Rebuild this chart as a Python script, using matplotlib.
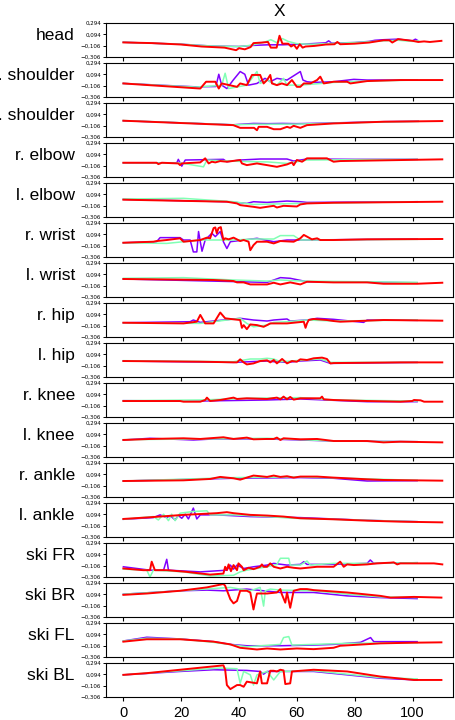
import matplotlib
matplotlib.use("Agg")
import matplotlib.pyplot as plt

plt.rcParams['font.family'] = ['Liberation Sans', 'DejaVu Sans']

# joint names, top to bottom
joints = ["head", "r. shoulder", "l. shoulder", "r. elbow", "l. elbow",
          "r. wrist", "l. wrist", "r. hip", "l. hip", "r. knee", "l. knee",
          "r. ankle", "l. ankle", "ski FR", "ski BR", "ski FL", "ski BL"]

y_ticks = [-0.306, -0.106, 0.094, 0.294]
y_tick_labels = ["\u22120,306", "\u22120,106", "0,094", "0,294"]
x_ticks = [0, 20, 40, 60, 80, 100]

# (frame, value) pairs, one list per joint and colour
head_purple = [(0, -0.045), (20, -0.08), (30, -0.11), (40, -0.12), (45, -0.1), (50, -0.09), (55, -0.09),
               (60, -0.08), (65, -0.07), (70, -0.055), (71, -0.02), (72, -0.06), (80, -0.05), (85, -0.03),
               (87, -0.01), (90, 0.0), (95, 0.01), (100, -0.02), (101, 0.01), (102, -0.02)]
head_green = [(0, -0.045), (20, -0.08), (30, -0.11), (40, -0.12), (44, -0.1), (49, -0.04), (51, 0.0),
              (53, -0.05), (55, 0.02), (57, -0.03), (60, -0.07), (65, -0.08), (70, -0.07), (80, -0.05),
              (90, -0.02), (95, -0.01), (100, -0.03), (102, -0.02)]
head_red = [(0, -0.048), (10, -0.06), (20, -0.085), (27, -0.12), (35, -0.14), (39, -0.185), (40, -0.15),
            (42, -0.17), (44, -0.13), (45, -0.06), (48, -0.05), (50, -0.04), (51, -0.14), (53, -0.14),
            (54, 0.07), (55, -0.07), (57, -0.07), (58, -0.12), (59, -0.09), (60, -0.16), (61, -0.08),
            (62, -0.14), (63, -0.12), (66, -0.11), (70, -0.085), (73, -0.08), (74, -0.04), (75, -0.08),
            (80, -0.07), (85, -0.05), (90, -0.01), (92, -0.01), (93, -0.05), (95, 0.01), (100, -0.02),
            (102, -0.04), (104, -0.03), (106, -0.04), (108, -0.03), (110, -0.02)]

rsho_purple = [(0, -0.066), (25, -0.126), (32, -0.12), (33, 0.096), (34, -0.096), (35.8, -0.156), (38, -0.006),
               (40.4, 0.144), (42, 0.096), (43.3, -0.096), (46.2, -0.066), (49, 0.024), (50.8, -0.036),
               (53.1, 0.024), (56.6, -0.006), (61.2, 0.144), (62.1, -0.006), (63.5, -0.036), (65.8, -0.048),
               (72.7, -0.036), (79.7, 0.006), (84.3, -0.006), (101.6, -0.006)]
rsho_green = [(0, -0.066), (25, -0.13), (34, -0.1), (35.2, 0.114), (36.4, -0.156), (42.7, -0.096), (46.2, 0.144),
              (47.3, -0.066), (49.7, -0.006), (53.1, -0.096), (55.4, 0.024), (56.6, -0.096), (61.2, -0.096),
              (72.7, -0.048), (84.3, -0.024), (101.6, -0.006)]
rsho_red = [(0, -0.066), (26.6, -0.156), (28.6, -0.036), (31.8, -0.036), (33, -0.156), (34, -0.066),
            (39.3, -0.126), (40.4, -0.066), (42.7, -0.096), (44.5, 0.084), (47.3, 0.084), (48.5, -0.066),
            (49.7, -0.006), (50.8, 0.084), (51.4, -0.066), (53.1, -0.096), (54.8, -0.066), (56.6, -0.096),
            (58.3, -0.006), (60, -0.126), (61.2, -0.126), (62.4, -0.066), (64.7, -0.066), (67, -0.006),
            (68.1, 0.054), (69.3, -0.066), (72.7, -0.036), (77.4, -0.036), (78.5, -0.066), (84.3, -0.024),
            (95.8, -0.006), (110.3, -0.006)]

lsho_purple = [(0, -0.018), (38, -0.09), (45, -0.066), (50, -0.07), (55, -0.066), (60, -0.07), (70, -0.06),
               (90, -0.035), (102, -0.028)]
lsho_green = [(0, -0.015), (38, -0.09), (45, -0.08), (50, -0.08), (60, -0.078), (70, -0.065), (90, -0.04),
              (102, -0.03)]
lsho_red = [(0, -0.018), (38, -0.096), (40.4, -0.144), (45.2, -0.144), (46.2, -0.186), (46.8, -0.126),
            (49.7, -0.126), (52, -0.168), (54.3, -0.168), (56.6, -0.126), (57.7, -0.144), (58.9, -0.108),
            (61.2, -0.144), (63.5, -0.096), (72.7, -0.066), (90, -0.036), (110.3, -0.024)]

relb_purple = [(0, -0.054), (18.5, -0.054), (19, 0.006), (20.2, -0.114), (21.4, -0.006), (34.6, 0.006),
               (35.8, -0.036), (40.4, -0.006), (47.3, 0.012), (56.6, 0.012), (58.9, -0.024), (63.5, 0.012),
               (80, 0.006), (101.6, 0.006)]
relb_green = [(0, -0.054), (20, -0.06), (27.7, -0.126), (28.9, -0.006), (40, -0.03), (50, -0.04),
              (56.6, -0.066), (63.5, -0.006), (80, 0.0), (101.6, 0.006)]
relb_red = [(0, -0.054), (11.5, -0.054), (12.1, -0.078), (13.3, -0.054), (19, -0.066), (19.6, -0.096),
            (20.2, -0.066), (26.6, -0.048), (28.3, 0.024), (29.5, -0.066), (30.6, -0.036), (31.8, -0.048),
            (33.5, -0.024), (35.8, -0.036), (40.4, -0.006), (41, -0.066), (42.7, -0.096), (46.2, -0.066),
            (49.7, -0.096), (53.1, -0.126), (56.6, -0.084), (58.3, -0.048), (58.9, -0.096), (60, -0.006),
            (61.8, -0.036), (63.5, 0.024), (70.4, 0.024), (72.7, -0.036), (75, -0.024), (110.3, 0.006)]

lelb_purple = [(0, 0.006), (35.8, -0.036), (42.7, -0.066), (45, -0.036), (49.7, -0.048), (56.6, -0.024),
               (61.2, -0.036), (63.5, -0.048), (101.6, -0.036)]
lelb_green = [(0, 0.012), (20.8, 0.024), (38, -0.036), (45, -0.084), (61.2, -0.066), (101.6, -0.036)]
lelb_red = [(0, 0.0), (35.8, -0.036), (39.3, -0.066), (40.4, -0.096), (45, -0.126), (47.3, -0.144),
            (52, -0.108), (53.1, -0.138), (55.4, -0.108), (60, -0.12), (61.2, -0.084), (63.5, -0.066),
            (72.7, -0.054), (110.3, -0.036)]

rwri_purple = [(0, -0.054), (11.5, -0.036), (12.7, 0.036), (19.6, 0.036), (20.8, -0.006), (23.1, -0.006),
               (24.2, -0.216), (25.4, -0.216), (26, 0.144), (26.6, -0.036), (27.2, -0.204), (28.3, -0.006),
               (30.6, 0.114), (31.8, 0.054), (33.5, 0.144), (34.6, -0.036), (35.8, -0.156), (37, -0.036),
               (41.6, -0.006), (46.2, 0.024), (52, -0.036), (56.6, -0.006), (61.2, -0.006), (101.6, 0.012)]
rwri_green = [(0, -0.054), (15, -0.066), (26.6, -0.006), (38.1, -0.006), (45, 0.012), (52, 0.012),
              (54.3, 0.072), (58.9, 0.072), (61.2, -0.006), (101.6, 0.006)]
rwri_red = [(0, -0.054), (10.4, -0.036), (11.5, -0.024), (15, -0.006), (19.6, 0.024), (20.8, -0.036),
            (26.6, -0.006), (28.9, 0.036), (30, 0.024), (31.2, 0.204), (31.8, 0.216), (32.3, 0.114),
            (32.9, 0.204), (33.7, 0.222), (34.6, -0.006), (35.2, 0.024), (36.4, 0.006), (38.1, 0.036),
            (40.4, -0.024), (41.6, -0.006), (43.3, -0.036), (43.9, -0.186), (45, -0.096), (46.2, -0.036),
            (49.7, -0.036), (52, -0.066), (54.3, -0.024), (58.9, -0.036), (61.2, 0.024), (62.4, 0.084),
            (63.5, 0.054), (65.2, 0.006), (67, 0.024), (68.1, -0.006), (72.7, -0.006), (84.3, 0.006),
            (110.3, 0.012)]

lwri_purple = [(0, 0.012), (49.7, -0.048), (52, -0.006), (54.3, 0.036), (57.7, 0.024), (61.2, -0.012),
               (63.5, -0.036), (101.6, -0.054)]
lwri_green = [(0, 0.024), (20.8, 0.036), (38.1, -0.006), (49.7, -0.024), (54.3, -0.006), (61.2, -0.024),
              (101.6, -0.048)]
lwri_red = [(0, 0.012), (31.2, -0.006), (38.1, -0.024), (39.3, -0.048), (41.6, -0.048), (43.9, -0.084),
            (49.7, -0.084), (52, -0.054), (54.3, -0.084), (57.7, -0.048), (61.2, -0.084), (63.5, -0.036),
            (72.7, -0.048), (84.3, -0.048), (90, -0.072), (101.6, -0.072), (110.3, -0.054)]

rhip_purple = [(0, -0.054), (23.1, -0.036), (24.2, -0.006), (26.6, -0.048), (34.6, -0.006), (40.4, 0.024),
               (45, -0.006), (49.7, -0.024), (52, -0.006), (56.6, 0.012), (57.7, -0.024), (63.5, -0.006),
               (67, 0.024), (72.7, 0.006), (83.1, -0.048), (84.3, -0.006), (101.6, -0.012)]
rhip_green = [(0, -0.054), (26.6, -0.066), (40.4, 0.024), (42.7, -0.066), (45, -0.126), (49.7, -0.096),
              (52, -0.048), (56.6, -0.036), (63.5, -0.006), (72.7, -0.024), (101.6, -0.006)]
rhip_red = [(0, -0.054), (20.8, -0.066), (25.4, -0.036), (26.6, 0.084), (28.3, -0.066), (31.2, -0.066),
            (33.5, 0.126), (35.2, 0.024), (38.1, 0.006), (40.4, -0.006), (41, -0.144), (41.6, -0.096),
            (42.7, -0.168), (43.9, -0.084), (46.2, -0.096), (48.5, -0.126), (49.7, -0.096), (50.8, -0.066),
            (56.6, -0.066), (62.4, -0.036), (63, -0.144), (63.5, -0.066), (64.1, -0.006), (65.8, 0.012),
            (70.4, -0.006), (72.7, -0.024), (75, -0.036), (84.3, -0.018), (90, -0.006), (110.3, -0.018)]

lhip_purple = [(0, -0.024), (38.1, -0.048), (43.9, -0.036), (49.7, -0.024), (52, -0.036), (56.6, -0.048),
               (61.2, -0.024), (68.1, -0.006), (71.6, -0.066), (101.6, -0.048)]
lhip_green = [(0, -0.018), (38.1, -0.036), (43.9, 0.012), (47.3, 0.012), (49.7, 0.024), (52, 0.012),
              (54.3, -0.036), (61.2, -0.012), (68.1, 0.012), (71.6, -0.048), (101.6, -0.048)]
lhip_red = [(0, -0.024), (26.6, -0.036), (39.3, -0.048), (40.4, 0.006), (41.6, -0.048), (42.7, -0.084),
            (45, -0.066), (47.3, -0.024), (49.7, -0.012), (50.8, -0.048), (52, -0.006), (53.1, -0.066),
            (54.9, 0.012), (56.6, -0.066), (58.3, -0.024), (60, -0.036), (61.2, 0.006), (63.5, -0.006),
            (65.8, 0.024), (68.7, 0.036), (70.4, 0.012), (71.6, -0.066), (72.7, -0.06), (95.8, -0.048),
            (110.3, -0.048)]

rkne_purple = [(0, -0.018), (26.6, -0.024), (49.7, -0.006), (61.2, 0.012), (84.3, -0.036), (101.6, -0.036)]
rkne_green = [(0, -0.018), (26.6, -0.006), (43.9, 0.024), (61.2, 0.036), (72.7, -0.006), (101.6, -0.024)]
rkne_red = [(0, -0.024), (19.6, -0.024), (20.8, -0.036), (26.6, -0.036), (28.3, -0.006), (28.9, 0.036),
            (30, -0.024), (33.5, -0.006), (38.1, 0.036), (39.3, 0.012), (42.7, 0.024), (49.7, 0.012),
            (53.1, 0.036), (54.3, 0.006), (55.4, 0.054), (56.6, 0.006), (57.7, 0.048), (58.9, 0.0),
            (61.2, 0.024), (68.1, 0.024), (68.7, 0.054), (69.3, 0.006), (72.7, -0.006), (84.3, -0.024),
            (95.8, -0.036), (99.9, -0.024), (100.5, -0.006), (102.8, -0.012), (104, -0.036), (110.3, -0.036)]

lkne_purple = [(0, -0.006), (9.2, 0.024), (24.2, -0.006), (31.2, 0.012), (49.7, 0.012), (61.2, -0.006),
               (72.7, -0.024), (101.6, -0.036)]
lkne_green = [(0, 0.0), (26.6, 0.012), (49.7, 0.024), (72.7, -0.024), (101.6, -0.036)]
lkne_red = [(0, -0.006), (9.2, 0.012), (20.8, 0.024), (26.6, 0.012), (34.6, 0.042), (38.1, 0.012),
            (42.7, 0.036), (45, 0.006), (49.7, 0.012), (52, 0.012), (53.1, 0.036), (54.3, -0.006),
            (55.4, 0.024), (61.2, 0.006), (67, 0.012), (72.7, -0.024), (84.3, -0.024), (90, -0.048),
            (95.8, -0.036), (110.3, -0.048)]

rank_purple = [(0, -0.024), (38.1, 0.024), (61.2, 0.036), (72.7, 0.024), (84.3, -0.024), (101.6, -0.018)]
rank_green = [(0, -0.024), (38.1, 0.036), (61.2, 0.048), (101.6, -0.012)]
rank_red = [(0, -0.024), (20.8, -0.012), (30, 0.012), (33.5, 0.048), (38.1, 0.024), (40.4, 0.0),
            (42.7, 0.036), (45, 0.072), (49.7, 0.048), (52, 0.072), (54.3, 0.048), (56.6, 0.06),
            (58.9, 0.036), (61.2, 0.054), (67, 0.054), (72.7, 0.036), (84.3, 0.006), (90, -0.006),
            (110.3, -0.018)]

lank_purple = [(0, 0.006), (10.4, 0.036), (12.7, 0.084), (15, 0.036), (16.2, 0.072), (17.9, -0.006),
               (19, 0.072), (20.2, 0.024), (21.4, 0.096), (22.5, 0.012), (24.2, 0.204), (25.4, 0.012),
               (26.6, 0.084), (32.3, 0.084), (43.9, 0.054), (61.2, 0.036), (84.3, -0.012), (101.6, -0.036)]
lank_green = [(0, 0.006), (10.4, 0.054), (12.1, -0.006), (13.9, 0.096), (15.6, -0.018), (16.7, 0.096),
              (17.9, -0.018), (19.6, 0.114), (24.2, 0.144), (28.9, 0.156), (30, 0.084), (38.1, 0.084),
              (49.7, 0.054), (58.9, 0.024), (72.7, 0.006), (101.6, -0.036)]
lank_red = [(0, 0.012), (9.2, 0.042), (20.8, 0.084), (32.3, 0.114), (35.8, 0.132), (38.1, 0.114),
            (43.9, 0.084), (49.7, 0.072), (55.4, 0.054), (61.2, 0.024), (72.7, 0.006), (84.3, -0.018),
            (95.8, -0.036), (110.3, -0.048)]

skfr_purple = [(0, -0.126), (9.2, -0.186), (13.9, -0.186), (15, 0.006), (15.6, -0.186), (26.6, -0.216),
               (35.8, -0.186), (37, -0.096), (38.1, -0.168), (39.3, -0.096), (41.6, -0.156), (45, -0.126),
               (49.7, -0.096), (52, -0.066), (56.6, -0.096), (61.2, -0.084), (62.4, -0.036), (63.5, -0.084),
               (72.7, -0.084), (84.3, -0.066), (85.4, -0.006), (86.6, -0.066), (101.6, -0.054)]
skfr_green = [(0, -0.168), (8.1, -0.186), (9.2, -0.306), (10.4, -0.186), (20.8, -0.216), (30, -0.288),
              (38.1, -0.276), (40.4, -0.216), (42.7, -0.186), (49.7, -0.126), (53.1, -0.084), (54.3, 0.024),
              (57.2, 0.024), (57.7, -0.096), (61.2, -0.096), (63.5, -0.024), (64.7, -0.096), (72.7, -0.066),
              (84.3, -0.066), (101.6, -0.054)]
skfr_red = [(0, -0.156), (6.9, -0.186), (9.2, -0.186), (9.8, -0.036), (10.9, -0.186), (15, -0.186),
            (21.9, -0.216), (30, -0.264), (34.6, -0.246), (35.2, -0.126), (35.8, -0.186), (36.4, -0.084),
            (37.2, -0.204), (38.1, -0.096), (39.3, -0.186), (39.8, -0.066), (41, -0.126), (41.6, -0.186),
            (43.3, -0.144), (45, -0.168), (47.3, -0.126), (47.9, -0.084), (48.5, -0.126), (49.7, -0.126),
            (50.8, -0.066), (52, -0.126), (54.3, -0.156), (56.6, -0.126), (58.9, -0.144), (61.2, -0.156),
            (67, -0.126), (72.7, -0.126), (75, -0.036), (76.2, -0.126), (77.4, -0.084), (79.7, -0.096),
            (84.3, -0.084), (87.7, -0.066), (92.4, -0.054), (93.5, -0.048), (94.7, -0.084), (95.8, -0.066),
            (107.4, -0.066), (110.3, -0.084)]

skbr_purple = [(0, 0.096), (19.6, 0.156), (28.9, 0.168), (34.6, 0.156), (42.7, 0.186), (48.5, 0.156),
               (54.3, 0.126), (65.8, 0.126), (77.4, 0.066), (88.9, 0.036), (101.6, 0.018)]
skbr_green = [(0, 0.096), (19.6, 0.156), (37, 0.216), (40.4, 0.186), (43.9, 0.156), (47.3, 0.216),
              (48.5, -0.114), (49.1, 0.156), (50.8, 0.186), (54.3, 0.168), (65.8, 0.156), (77.4, 0.096),
              (88.9, 0.048), (101.6, 0.036)]
skbr_red = [(0, 0.084), (8.1, 0.108), (19.6, 0.156), (28.9, 0.216), (34.6, 0.276), (35.2, 0.246),
            (37, 0.006), (38.1, -0.066), (39.3, -0.024), (40.4, 0.156), (42.7, 0.156), (43.9, 0.126),
            (45, -0.174), (45.6, -0.024), (46.2, 0.108), (49.7, 0.108), (53.1, 0.126), (54.3, 0.186),
            (54.8, 0.096), (56, -0.054), (56.6, 0.126), (57.7, -0.144), (58.9, 0.156), (61.2, 0.186),
            (63.5, 0.186), (65.8, 0.168), (77.4, 0.126), (88.9, 0.066), (92.4, 0.036), (100.5, 0.048),
            (110, 0.036)]

skfl_purple = [(0, -0.024), (8.1, 0.042), (19.6, 0.012), (31.2, -0.036), (37, -0.084), (42.7, -0.108),
               (54.3, -0.108), (65.8, -0.096), (72.7, -0.084), (82, -0.048), (85.5, 0.036), (86.6, -0.036),
               (101.6, -0.036)]
skfl_green = [(0, -0.024), (8.1, 0.024), (19.6, 0.012), (31.2, -0.048), (42.7, -0.126), (54.3, -0.084),
              (55.4, 0.036), (57.2, 0.054), (58.3, -0.096), (65.8, -0.084), (77.4, -0.066), (101.6, -0.054)]
skfl_red = [(0, -0.036), (8.1, 0.006), (19.6, 0.006), (31.2, -0.036), (37, -0.084), (40.4, -0.144),
            (46.2, -0.174), (49.7, -0.156), (54.3, -0.174), (60, -0.156), (65.8, -0.168), (72.7, -0.144),
            (75, -0.108), (83.1, -0.084), (88.9, -0.066), (100.5, -0.054), (110, -0.048)]

skbl_purple = [(0, 0.084), (19.6, 0.144), (31.2, 0.174), (42.7, 0.162), (47.3, 0.144), (48.5, 0.096),
               (49.7, 0.144), (54.3, 0.144), (65.8, 0.144), (77.4, 0.084), (88.9, 0.024), (101.6, -0.006)]
skbl_green = [(0, 0.084), (19.6, 0.156), (33.5, 0.204), (39.3, 0.192), (40.4, -0.066), (41.6, 0.144),
              (43.9, 0.084), (45, -0.096), (46.2, 0.084), (49.7, 0.144), (52, -0.006), (54.3, 0.144),
              (65.8, 0.156), (77.4, 0.096), (88.9, 0.036), (101.6, 0.012)]
skbl_red = [(0, 0.084), (8.1, 0.114), (19.6, 0.174), (31.2, 0.234), (34.6, 0.252), (35.2, 0.174),
            (35.8, -0.096), (37, -0.168), (39.3, -0.096), (40.4, -0.096), (41.6, -0.126), (42.7, -0.036),
            (46.2, -0.066), (47.3, 0.144), (47.9, -0.066), (49.7, -0.066), (50.8, 0.156), (52, 0.156),
            (53.1, 0.144), (54.3, 0.174), (55.4, 0.162), (56, -0.078), (57.7, -0.066), (58.3, 0.144),
            (65.8, 0.174), (77.4, 0.144), (88.9, 0.054), (100.5, -0.006), (110, -0.006)]

curves = [
    (head_purple, head_green, head_red), (rsho_purple, rsho_green, rsho_red),
    (lsho_purple, lsho_green, lsho_red), (relb_purple, relb_green, relb_red),
    (lelb_purple, lelb_green, lelb_red), (rwri_purple, rwri_green, rwri_red),
    (lwri_purple, lwri_green, lwri_red), (rhip_purple, rhip_green, rhip_red),
    (lhip_purple, lhip_green, lhip_red), (rkne_purple, rkne_green, rkne_red),
    (lkne_purple, lkne_green, lkne_red), (rank_purple, rank_green, rank_red),
    (lank_purple, lank_green, lank_red), (skfr_purple, skfr_green, skfr_red),
    (skbr_purple, skbr_green, skbr_red), (skfl_purple, skfl_green, skfl_red),
    (skbl_purple, skbl_green, skbl_red),
]

colors = [plt.cm.rainbow(0.0), plt.cm.rainbow(0.5), plt.cm.rainbow(1.0)]
widths = [1.1, 1.1, 1.4]

fig, axes = plt.subplots(len(joints), 1, figsize=(4.56, 7.2), dpi=100, sharex=True)
fig.subplots_adjust(left=0.2325, right=0.9934, top=0.968, bottom=0.032, hspace=0.176)

for ax, name, trio in zip(axes, joints, curves):
    for pts, c, lw in zip(trio, colors, widths):
        xs = [p[0] for p in pts]
        ys = [p[1] for p in pts]
        ax.plot(xs, ys, color=c, lw=lw)
    ax.set_ylim(-0.306, 0.294)
    ax.set_yticks(y_ticks)
    ax.set_yticklabels(y_tick_labels, fontsize=4, family='DejaVu Sans')
    ax.tick_params(axis="y", length=2.5, width=0.7, pad=1)
    ax.tick_params(axis="x", length=3, width=0.8)
    for s in ax.spines.values():
        s.set_linewidth(0.8)
    ax.text(-0.09, 0.5, name, transform=ax.transAxes, ha="right", va="baseline", fontsize=12.5)

axes[0].set_xlim(-6, 114)
axes[-1].set_xticks(x_ticks)
axes[-1].tick_params(axis="x", labelsize=10.5)
axes[0].set_title("X", fontsize=12.5, pad=5)

fig.savefig("out.png")
